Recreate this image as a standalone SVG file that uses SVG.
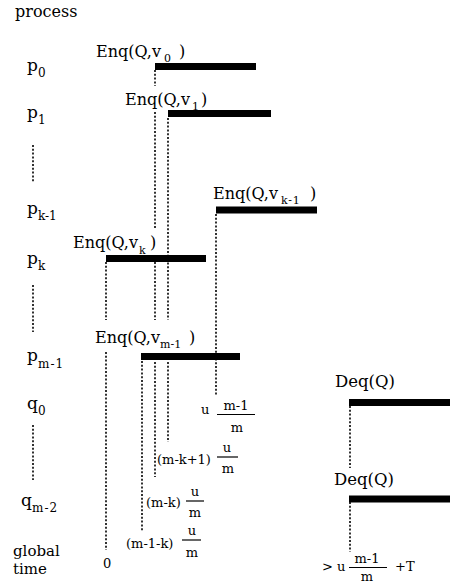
<svg xmlns="http://www.w3.org/2000/svg" width="450" height="586" viewBox="0 0 450 586">
<style>
.t{font-family:"DejaVu Serif","Liberation Serif",serif;fill:#000}
.lbl{font-size:17px}
.hd{font-size:16px}
.gt{font-size:15px}
.enq{font-size:16px}
.deq{font-size:16.5px}
.sb{font-size:12px}
.es{font-size:11px}
.fr{font-size:13px}
.bar{stroke:#000;stroke-width:7;fill:none}
.dash{stroke:#000;stroke-width:1.6;stroke-dasharray:2 1.8;fill:none}
.frl{stroke:#000;stroke-width:1.2;fill:none}
</style>
<rect width="450" height="586" fill="#fff"/>
<text class="t hd" x="15" y="17">process</text>

<g id="connectors">
<path class="dash" d="M155 70V86M155 112V228M155 262V320M155 362V477"/>
<path class="dash" d="M168 118V320M168 362V442"/>
<path class="dash" d="M216 214V395"/>
<path class="dash" d="M106 262V320M106 352V550"/>
<path class="dash" d="M142 361V532"/>
<path class="dash" d="M350 406V468M350 502V552"/>
<path class="dash" d="M33 145V182M33 285V332M33 425V480"/>
</g>

<g id="p0">
<text class="t lbl" x="27" y="71">p<tspan class="sb" x="38" y="77">0</tspan></text>
<text class="t enq" x="96" y="57">Enq(Q,v<tspan class="es" x="164" y="62">0</tspan><tspan x="179" y="57">)</tspan></text>
<line class="bar" x1="155" y1="66.5" x2="256" y2="66.5"/>
</g>

<g id="p1">
<text class="t lbl" x="27" y="118">p<tspan class="sb" x="38" y="124">1</tspan></text>
<text class="t enq" x="125" y="105">Enq(Q,v<tspan class="es" x="192" y="110">1</tspan><tspan x="201" y="105">)</tspan></text>
<line class="bar" x1="168" y1="113.5" x2="271" y2="113.5"/>
</g>

<g id="pk-1">
<text class="t lbl" x="27" y="214">p<tspan class="sb" x="38" y="220">k-1</tspan></text>
<text class="t enq" x="213" y="199">Enq(Q,v<tspan class="es" x="281" y="204" letter-spacing="0.8">k-1</tspan><tspan x="310" y="199">)</tspan></text>
<line class="bar" x1="216" y1="210" x2="317" y2="210"/>
</g>

<g id="pk">
<text class="t lbl" x="27" y="264">p<tspan class="sb" x="38" y="270">k</tspan></text>
<text class="t enq" x="73" y="248">Enq(Q,v<tspan class="es" x="139" y="254">k</tspan><tspan x="150" y="248">)</tspan></text>
<line class="bar" x1="106" y1="258.5" x2="206" y2="258.5"/>
</g>

<g id="pm-1">
<text class="t lbl" x="27" y="361">p<tspan class="sb" x="38" y="368" letter-spacing="1">m-1</tspan></text>
<text class="t enq" x="95" y="343">Enq(Q,v<tspan class="es" x="160" y="348">m-1</tspan><tspan x="189" y="343">)</tspan></text>
<line class="bar" x1="141" y1="356.5" x2="240" y2="356.5"/>
</g>

<g id="q0">
<text class="t lbl" x="27" y="409">q<tspan class="sb" x="38" y="415">0</tspan></text>
<text class="t deq" x="335" y="387">Deq(Q)</text>
<line class="bar" x1="349" y1="402.5" x2="450" y2="402.5"/>
</g>

<g id="qm-2">
<text class="t lbl" x="21" y="506">q<tspan class="sb" x="32" y="512" letter-spacing="1">m-2</tspan></text>
<text class="t deq" x="334" y="485">Deq(Q)</text>
<line class="bar" x1="349" y1="499" x2="450" y2="499"/>
</g>

<g id="global-time">
<text class="t gt" x="13" y="556">global</text>
<text class="t gt" x="13" y="574">time</text>
<text class="t fr" x="103" y="568">0</text>
</g>

<g id="t-um1m">
<text class="t fr" x="201" y="414">u</text>
<text class="t fr" x="236" y="410" text-anchor="middle">m-1</text>
<line class="frl" x1="217" y1="414.5" x2="255" y2="414.5"/>
<text class="t fr" x="237" y="432" text-anchor="middle">m</text>
</g>

<g id="t-mk1">
<text class="t fr" x="157" y="464">(m-k+1)</text>
<text class="t fr" x="227" y="452" text-anchor="middle">u</text>
<line class="frl" x1="217" y1="457" x2="238" y2="457"/>
<text class="t fr" x="228" y="473" text-anchor="middle">m</text>
</g>

<g id="t-mk">
<text class="t fr" x="146" y="507">(m-k)</text>
<text class="t fr" x="195" y="496" text-anchor="middle">u</text>
<line class="frl" x1="186" y1="501" x2="204" y2="501"/>
<text class="t fr" x="195" y="517" text-anchor="middle">m</text>
</g>

<g id="t-m1k">
<text class="t fr" x="126" y="548">(m-1-k)</text>
<text class="t fr" x="192" y="535" text-anchor="middle">u</text>
<line class="frl" x1="182" y1="540" x2="201" y2="540"/>
<text class="t fr" x="192" y="557" text-anchor="middle">m</text>
</g>

<g id="t-final">
<text class="t fr" x="322" y="571">&gt; u</text>
<text class="t fr" x="367" y="563" text-anchor="middle">m-1</text>
<line class="frl" x1="349" y1="567.5" x2="387" y2="567.5"/>
<text class="t fr" x="367" y="581" text-anchor="middle">m</text>
<text class="t fr" x="395" y="571">+T</text>
</g>
</svg>
